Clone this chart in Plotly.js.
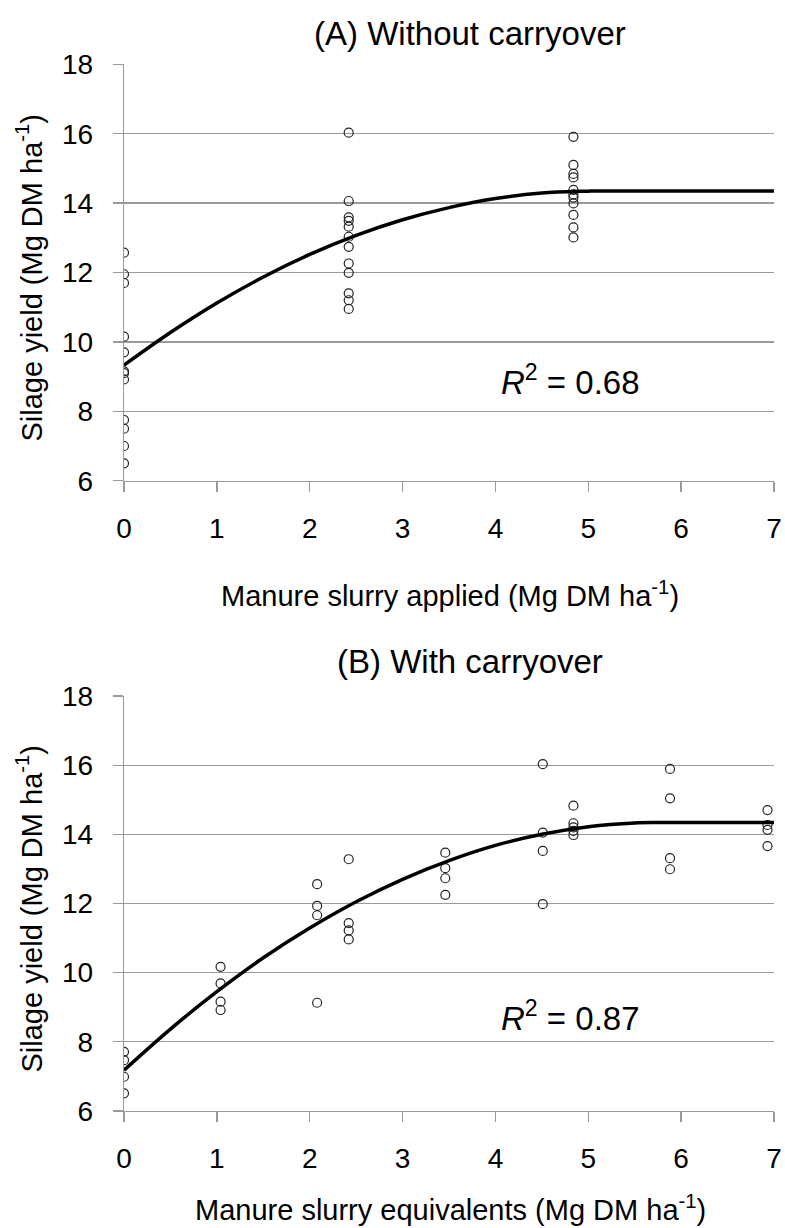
<!DOCTYPE html>
<html>
<head>
<meta charset="utf-8">
<script src="https://cdn.plot.ly/plotly-3.0.1.min.js"></script>
<style>html,body{margin:0;padding:0;background:#fff;}#chart{width:785px;height:1228px;}</style>
</head>
<body>
<div id="chart"></div>
<script>
// Panel A: without carryover
const xA = [0,0,0,0,0,0,0,0,0,0,0,0,
            2.42,2.42,2.42,2.42,2.42,2.42,2.42,2.42,2.42,2.42,2.42,2.42,
            4.84,4.84,4.84,4.84,4.84,4.84,4.84,4.84,4.84,4.84,4.84];
const yA = [12.57,11.95,11.7,10.15,9.7,9.15,9.1,8.92,7.75,7.5,7.0,6.5,
            16.03,14.06,13.59,13.49,13.32,13.03,12.74,12.26,11.99,11.4,11.2,10.95,
            15.91,15.1,14.84,14.74,14.38,14.25,14.16,13.99,13.66,13.3,13.01];
const fitXA = [0,0.5,1,1.5,2,2.5,3,3.5,4,4.5,5,5.05,5.5,6,6.5,7];
const fitYA = [9.33,10.27,11.12,11.87,12.52,13.07,13.52,13.87,14.13,14.29,14.345,14.35,14.35,14.35,14.35,14.35];

// Panel B: with carryover
const xB = [0,0,0,0,
            1.04,1.04,1.04,1.04,
            2.08,2.08,2.08,2.08,
            2.42,2.42,2.42,2.42,
            3.46,3.46,3.46,3.46,
            4.51,4.51,4.51,4.51,
            4.84,4.84,4.84,4.84,4.84,
            5.88,5.88,5.88,5.88,
            6.93,6.93,6.93,6.93];
const yB = [7.71,7.47,6.99,6.51,
            10.17,9.69,9.16,8.92,
            12.56,11.93,11.66,9.13,
            13.28,11.43,11.22,10.96,
            13.47,13.02,12.73,12.25,
            16.03,14.05,13.52,11.98,
            14.83,14.32,14.2,14.1,13.98,
            15.89,15.04,13.31,12.99,
            14.7,14.27,14.13,13.66];
const fitXB = [0,0.5,1,1.5,2,2.5,3,3.5,4,4.5,5,5.5,5.75,6,6.5,7];
const fitYB = [7.18,8.37,9.45,10.43,11.29,12.05,12.70,13.24,13.68,14.00,14.22,14.33,14.34,14.34,14.34,14.34];

const titles = ["(A) Without carryover", "(B) With carryover"];
const xTitles = ["Manure slurry applied (Mg DM ha<sup>-1</sup>)", "Manure slurry equivalents (Mg DM ha<sup>-1</sup>)"];
const yTitle = "Silage yield (Mg DM ha<sup>-1</sup>)";
const r2Text = ["<i>R</i><sup>2</sup> = 0.68", "<i>R</i><sup>2</sup> = 0.87"];
const xTicks = [0,1,2,3,4,5,6,7];
const yTicks = [6,8,10,12,14,16,18];

const FONT = "Liberation Sans, Arial, sans-serif";
const grid = "#9a9a9a";

const markerStyle = {symbol: "circle-open", size: 9, color: "#222", line: {width: 1.2, color: "#222"}};
const lineStyle = {color: "#000", width: 3.5, shape: "spline"};

const traces = [
  {x: xA, y: yA, type: "scatter", mode: "markers", marker: markerStyle, xaxis: "x", yaxis: "y", hoverinfo: "none"},
  {x: fitXA, y: fitYA, type: "scatter", mode: "lines", line: lineStyle, xaxis: "x", yaxis: "y", hoverinfo: "none"},
  {x: xB, y: yB, type: "scatter", mode: "markers", marker: markerStyle, xaxis: "x2", yaxis: "y2", hoverinfo: "none"},
  {x: fitXB, y: fitYB, type: "scatter", mode: "lines", line: lineStyle, xaxis: "x2", yaxis: "y2", hoverinfo: "none"}
];

const W = 785, H = 1228;
const px = v => v / W;
const py = v => 1 - v / H;

function xaxisDef(anchor) {
  return {
    domain: [px(124), px(774)], range: [0, 7], anchor: anchor,
    tickvals: xTicks, ticktext: xTicks.map(String),
    showgrid: false, zeroline: false, showline: true, linecolor: grid, linewidth: 1.3,
    ticks: "outside", ticklen: 10, tickcolor: grid, tickwidth: 1.3,
    ticklabelstandoff: 12,
    tickfont: {family: FONT, size: 28, color: "#000"}
  };
}
function yaxisDef(anchor, top, bottom) {
  return {
    domain: [py(bottom), py(top)], range: [6, 18], anchor: anchor,
    tickvals: yTicks, ticktext: yTicks.map(String),
    showgrid: true, gridcolor: grid, gridwidth: 1.3, zeroline: false,
    showline: true, linecolor: grid, linewidth: 1.3,
    ticks: "outside", ticklen: 10, tickcolor: grid, tickwidth: 1.3,
    ticklabelstandoff: 14,
    tickfont: {family: FONT, size: 28, color: "#000"}
  };
}

const ann = [];
const panelTop = [64.3, 696];
const panelBottom = [480.7, 1111];
const titleY = [33, 661];
const xTitleY = [594, 1208];
const r2Y = [380, 1016];
for (let i = 0; i < 2; i++) {
  ann.push({xref: "paper", yref: "paper", x: px(470), y: py(titleY[i]), text: titles[i], showarrow: false,
            xanchor: "center", yanchor: "middle", font: {family: FONT, size: 33, color: "#000"}});
  ann.push({xref: "paper", yref: "paper", x: px(450), y: py(xTitleY[i]), text: xTitles[i], showarrow: false,
            xanchor: "center", yanchor: "middle", font: {family: FONT, size: 29, color: "#000"}});
  ann.push({xref: "paper", yref: "paper", x: px(29), y: py((panelTop[i] + panelBottom[i]) / 2 + 5), text: yTitle, showarrow: false,
            textangle: -90, xanchor: "center", yanchor: "middle", font: {family: FONT, size: 29, color: "#000"}});
  ann.push({xref: "paper", yref: "paper", x: px(570), y: py(r2Y[i]), text: r2Text[i], showarrow: false,
            xanchor: "center", yanchor: "middle", font: {family: FONT, size: 33, color: "#000"}});
}

const layout = {
  width: W, height: H,
  margin: {l: 0, r: 0, t: 0, b: 0},
  paper_bgcolor: "#fff", plot_bgcolor: "#fff",
  showlegend: false,
  font: {family: FONT, color: "#000"},
  xaxis: xaxisDef("y"),
  yaxis: yaxisDef("x", panelTop[0], panelBottom[0]),
  xaxis2: xaxisDef("y2"),
  yaxis2: yaxisDef("x2", panelTop[1], panelBottom[1]),
  annotations: ann
};

Plotly.newPlot("chart", traces, layout, {staticPlot: true, displayModeBar: false});
</script>
</body>
</html>
